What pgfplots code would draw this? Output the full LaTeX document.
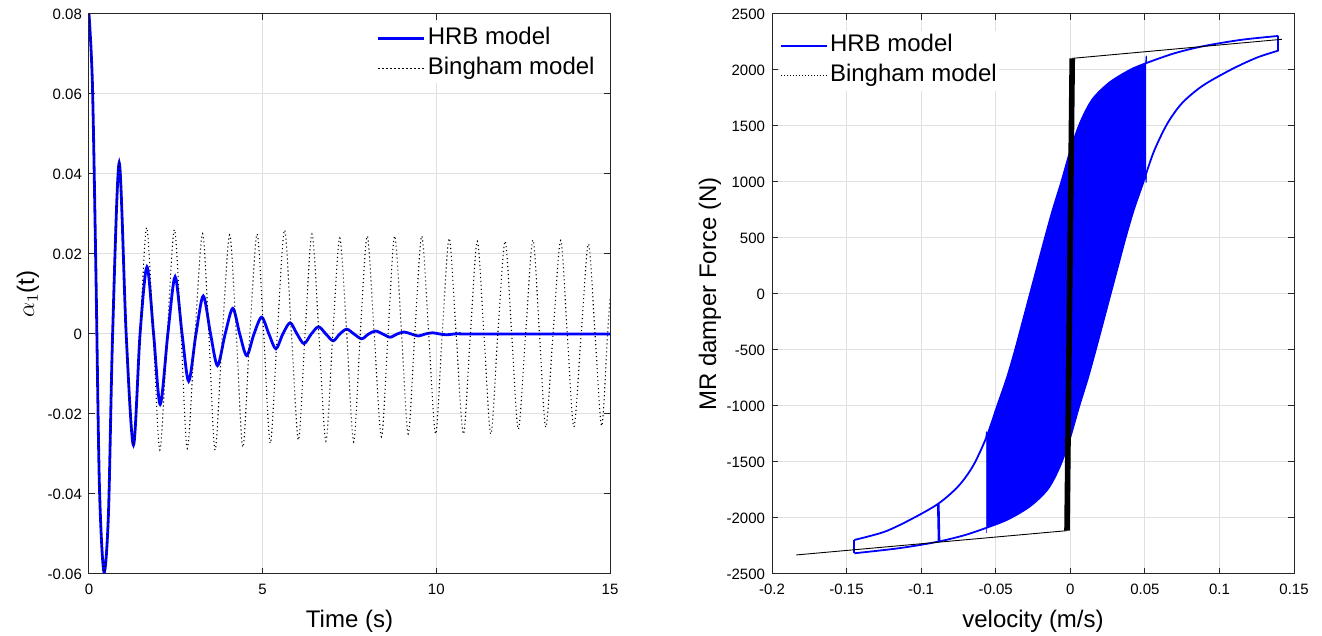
\documentclass[border=0pt]{standalone}
\usepackage{pgfplots}
\pgfplotsset{compat=1.18}
\usepackage{fontspec}
\setmainfont{Liberation Sans}

\pgfplotsset{
  mlab/.style={
    scale only axis,
    height=280pt,
    axis line style={black!85, line width=0.5pt},
    every tick/.style={black!85, line width=0.5pt},
    major tick length=3pt,
    grid=major,
    grid style={black!12, line width=0.5pt},
    tick label style={font=\fontsize{7.5}{9}\selectfont},
    xticklabel style={yshift=-1.5pt},
    /pgf/number format/assume math mode=true,
    /pgf/number format/1000 sep={},
    scaled ticks=false,
    every axis x label/.style={at={(axis description cs:0.5,-0.084)}, anchor=center,
      font=\fontsize{12}{14}\selectfont},
    legend style={draw=none, fill=white, inner sep=0pt,
      font=\fontsize{12}{14}\selectfont,
      nodes={inner sep=1pt, text height=9.5pt, text depth=3.5pt}},
    legend cell align=left,
    legend image code/.code={\draw[##1] (0pt,0pt) -- (23pt,0pt);},
  }
}

\begin{document}
\begin{tikzpicture}
\path[use as bounding box] (-44.5pt,-31pt) rectangle (616.5pt,287pt);

% ---------------- left axis ----------------
\begin{axis}[mlab,
  width=260.5pt,
  xmin=0, xmax=15, ymin=-0.06, ymax=0.08,
  xtick={0,5,10,15},
  ytick={-0.06,-0.04,-0.02,0,0.02,0.04,0.06,0.08},
  yticklabel style={/pgf/number format/fixed, /pgf/number format/precision=2},
  xlabel={Time (s)},
  ylabel={$\alpha_{1}$(t)},
  every axis y label/.style={at={(axis description cs:-0.117,0.5)}, rotate=90, anchor=center,
    font=\fontsize{12}{14}\selectfont},
  legend style={at={(axis description cs:0.975,0.984)}, anchor=north east},
]
\addplot[blue, line width=1.4pt, smooth] coordinates {
(0,0.08) (0.1,0.062) (0.2,0.015) (0.3,-0.038) (0.43,-0.0595) (0.56,-0.045)
(0.68,0) (0.87,0.0428) (1.07,0) (1.28,-0.0278) (1.47,0) (1.67,0.0168)
(1.86,0) (2.05,-0.0176) (2.27,0) (2.48,0.0143) (2.68,0) (2.87,-0.0118)
(3.08,0) (3.29,0.0095) (3.50,0) (3.70,-0.0079) (3.92,0) (4.14,0.0064)
(4.34,0) (4.54,-0.0054) (4.75,0) (4.97,0.0042) (5.18,0) (5.38,-0.0037)
(5.58,0) (5.79,0.0028) (5.99,0) (6.19,-0.0024) (6.40,0) (6.61,0.0018)
(6.82,0) (7.03,-0.0017) (7.22,0) (7.42,0.0012) (7.63,0) (7.85,-0.0012)
(8.05,0) (8.25,0.00075) (8.46,0) (8.67,-0.0008) (8.87,0) (9.07,0.0005)
(9.28,0) (9.48,-0.0005) (9.68,0) (9.89,0.0003) (10.1,0) (10.3,-0.0002)
(10.5,0) (10.7,0.0001) (11,0) (15,0)
};
\addlegendentry{HRB model}
\addplot[black, line width=0.55pt, dash pattern=on 0.55pt off 1.45pt, smooth] coordinates {
(0,0.08) (0.1,0.062) (0.2,0.015) (0.3,-0.038) (0.43,-0.0595) (0.56,-0.045)
(0.68,0) (0.87,0.0428) (1.07,0) (1.28,-0.0278) (1.47,0) (1.66,0.0266)
(1.85,0) (2.04,-0.029) (2.25,0) (2.46,0.0261) (2.65,0) (2.83,-0.0286)
(3.05,0) (3.27,0.0251) (3.45,0) (3.63,-0.029) (3.84,0) (4.05,0.0248)
(4.24,0) (4.43,-0.0283) (4.63,0) (4.84,0.025) (5.03,0) (5.22,-0.0273)
(5.42,0) (5.63,0.026) (5.83,0) (6.03,-0.0265) (6.22,0) (6.42,0.025)
(6.62,0) (6.82,-0.0268) (7.02,0) (7.22,0.024) (7.42,0) (7.62,-0.027)
(7.81,0) (8.01,0.0245) (8.21,0) (8.42,-0.0257) (8.61,0) (8.80,0.0245)
(9.0,0) (9.19,-0.025) (9.38,0) (9.58,0.0245) (9.78,0) (9.98,-0.025)
(10.17,0) (10.37,0.0239) (10.57,0) (10.78,-0.025) (10.98,0) (11.18,0.0232)
(11.37,0) (11.57,-0.025) (11.77,0) (11.98,0.0232) (12.17,0) (12.36,-0.0238)
(12.57,0) (12.78,0.0235) (12.97,0) (13.15,-0.0233) (13.36,0) (13.58,0.0234)
(13.77,0) (13.96,-0.0232) (14.17,0) (14.38,0.0225) (14.57,0) (14.76,-0.023)
(14.93,0) (15,0.009)
};
\addlegendentry{Bingham model}
\end{axis}

% ---------------- right axis ----------------
\begin{axis}[mlab,
  at={(341.5pt,0pt)}, anchor=south west,
  width=261pt,
  xmin=-0.2, xmax=0.15, ymin=-2500, ymax=2500,
  xtick={-0.2,-0.15,-0.1,-0.05,0,0.05,0.1,0.15},
  ytick={-2500,-2000,-1500,-1000,-500,0,500,1000,1500,2000,2500},
  xticklabel style={/pgf/number format/fixed, /pgf/number format/precision=2},
  xlabel={velocity (m/s)},
  ylabel={MR damper Force (N)},
  every axis y label/.style={at={(axis description cs:-0.119,0.5)}, rotate=90, anchor=center,
    font=\fontsize{12}{14}\selectfont},
  legend style={at={(axis description cs:0.015,0.971)}, anchor=north west},
]
% filled region of the many inner loops
\addplot[blue, fill=blue, line width=0.3pt, smooth, forget plot] coordinates {
(-0.0561,-2085) (-0.0561,-2085) (-0.0561,-1274) (-0.0561,-1274)
(-0.049,-1000) (-0.0425,-750) (-0.037,-500) (-0.032,-250) (-0.027,0)
(-0.022,250) (-0.017,500) (-0.0118,750) (-0.006,1000) (0.0005,1300)
(0.007,1540) (0.015,1740) (0.0265,1890) (0.04,2000) (0.0506,2060) (0.0506,2060)
(0.0506,1050) (0.0506,1050)
(0.0425,750) (0.037,500) (0.032,250) (0.027,0)
(0.022,-250) (0.017,-500) (0.0118,-750) (0.006,-1000) (-0.0005,-1300)
(-0.007,-1540) (-0.015,-1740) (-0.0265,-1890) (-0.04,-2000) (-0.0506,-2060)
(-0.0561,-2085) (-0.0561,-2085)
};
% outer loop, upper (left) branch
\addplot[blue, line width=0.9pt, smooth] coordinates {
(-0.1448,-2196) (-0.125,-2125) (-0.108,-2020) (-0.0888,-1875) (-0.075,-1715)
(-0.065,-1530) (-0.0561,-1274) (-0.049,-1000) (-0.0425,-750) (-0.037,-500)
(-0.032,-250) (-0.027,0) (-0.022,250) (-0.017,500) (-0.0118,750) (-0.006,1000)
(0.0005,1300) (0.007,1540) (0.015,1740) (0.0265,1890) (0.04,2000) (0.0506,2060)
(0.07,2150) (0.09,2215) (0.115,2270) (0.1395,2304)
};
\addlegendentry{HRB model}
% outer loop, lower (right) branch
\addplot[blue, line width=0.9pt, smooth, forget plot] coordinates {
(0.1395,2173) (0.125,2110) (0.108,2005) (0.0888,1860) (0.075,1705)
(0.065,1520) (0.0561,1274) (0.049,1000) (0.0425,750) (0.037,500)
(0.032,250) (0.027,0) (0.022,-250) (0.017,-500) (0.0118,-750) (0.006,-1000)
(-0.0005,-1300) (-0.007,-1540) (-0.015,-1740) (-0.0265,-1890) (-0.04,-2000)
(-0.0506,-2060) (-0.07,-2150) (-0.09,-2215) (-0.115,-2270) (-0.1448,-2315)
};
% vertical turning segments
\addplot[blue, line width=0.9pt, forget plot] coordinates {(0.1395,2304) (0.1395,2173)};
\addplot[blue, line width=0.9pt, forget plot] coordinates {(-0.1448,-2315) (-0.1448,-2196)};
\addplot[blue, line width=1.3pt, forget plot] coordinates {(-0.0885,-1875) (-0.0880,-2211)};

% Bingham model
\addplot[black, line width=0.45pt, forget plot] coordinates {(-0.1837,-2330) (-0.0022,-2113)};
\addplot[black, line width=0.45pt, forget plot] coordinates {(0.0013,2104) (0.1419,2274)};
\addplot[black, line width=2.8pt, forget plot] coordinates {(-0.0022,-2113) (0.0013,2104)};
\addlegendimage{black, line width=0.5pt, dash pattern=on 0.5pt off 1pt}
\addlegendentry{Bingham model}
\end{axis}
\end{tikzpicture}
\end{document}
